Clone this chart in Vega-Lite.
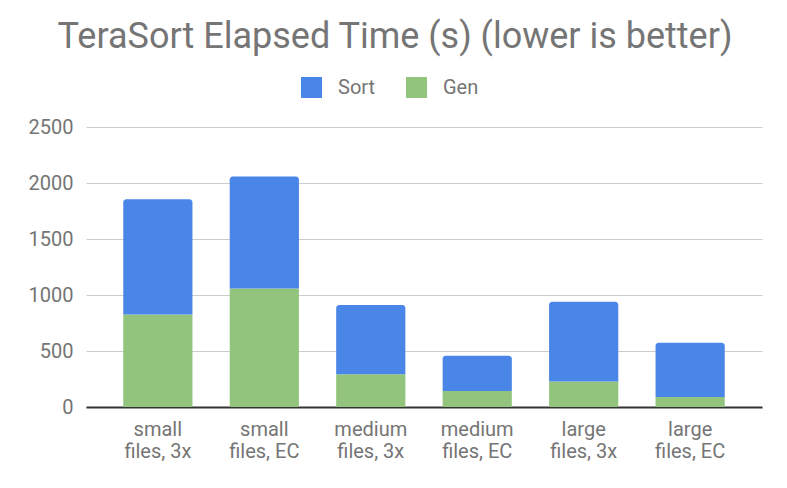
{
  "$schema": "https://vega.github.io/schema/vega-lite/v6.json",
  "autosize": {"type": "none"},
  "padding": {"left": 86, "top": 127, "right": 25, "bottom": 81},
  "width": 676,
  "height": 280,
  "background": "white",
  "config": {"font": "Roboto", "view": {"stroke": null}},
  "title": {
    "text": "TeraSort Elapsed Time (s) (lower is better)",
    "fontSize": 36,
    "font": "Roboto",
    "fontWeight": "normal",
    "color": "#757575",
    "anchor": "middle",
    "frame": "group",
    "baseline": "alphabetic",
    "dx": -29,
    "dy": 7,
    "offset": 0
  },
  "data": {
    "values": [
      {"category": "small files, 3x", "series": "Gen", "value": 827},
      {"category": "small files, 3x", "series": "Sort", "value": 1029},
      {"category": "small files, EC", "series": "Gen", "value": 1059},
      {"category": "small files, EC", "series": "Sort", "value": 999},
      {"category": "medium files, 3x", "series": "Gen", "value": 293},
      {"category": "medium files, 3x", "series": "Sort", "value": 617},
      {"category": "medium files, EC", "series": "Gen", "value": 143},
      {"category": "medium files, EC", "series": "Sort", "value": 314},
      {"category": "large files, 3x", "series": "Gen", "value": 227},
      {"category": "large files, 3x", "series": "Sort", "value": 713},
      {"category": "large files, EC", "series": "Gen", "value": 90},
      {"category": "large files, EC", "series": "Sort", "value": 483}
    ]
  },
  "transform": [
    {"stack": "value", "groupby": ["category"], "sort": [{"field": "series", "order": "ascending"}], "as": ["v0", "v1"]}
  ],
  "encoding": {
    "x": {
      "field": "category",
      "type": "nominal",
      "sort": null,
      "scale": {"paddingInner": 0.35, "paddingOuter": 0.35},
      "axis": {
        "title": null,
        "ticks": false,
        "labelAngle": 0,
        "domainColor": "#333333",
        "domainWidth": 2,
        "labelFontSize": 20,
        "labelLineHeight": 22,
        "labelPadding": 12,
        "labelColor": "#757575",
        "labelExpr": "[split(datum.label, ' ')[0], substring(datum.label, indexof(datum.label, ' ') + 1)]"
      }
    },
    "y": {
      "field": "v0",
      "type": "quantitative",
      "scale": {"domain": [0, 2500], "nice": false},
      "axis": {
        "title": null,
        "values": [0, 500, 1000, 1500, 2000, 2500],
        "format": "d",
        "domain": false,
        "ticks": false,
        "labelPadding": 13,
        "labelFontSize": 20,
        "labelColor": "#757575",
        "gridColor": "#cccccc",
        "gridWidth": 1
      }
    },
    "y2": {"field": "v1"},
    "color": {
      "field": "series",
      "type": "nominal",
      "scale": {"domain": ["Sort", "Gen"], "range": ["#4a86e8", "#93c47d"]},
      "legend": {
        "orient": "none",
        "legendX": 215,
        "legendY": -50,
        "direction": "horizontal",
        "title": null,
        "symbolType": "square",
        "symbolSize": 441,
        "symbolStrokeWidth": 0,
        "symbolOpacity": 1,
        "labelFontSize": 20,
        "labelColor": "#757575",
        "labelOffset": 16,
        "columnPadding": 30
      }
    }
  },
  "layer": [
    {
      "transform": [{"filter": "datum.series === 'Gen'"}],
      "mark": {"type": "bar", "opacity": 1}
    },
    {
      "transform": [{"filter": "datum.series === 'Sort'"}],
      "mark": {"type": "bar", "opacity": 1, "cornerRadiusTopLeft": 3, "cornerRadiusTopRight": 3}
    }
  ]
}
